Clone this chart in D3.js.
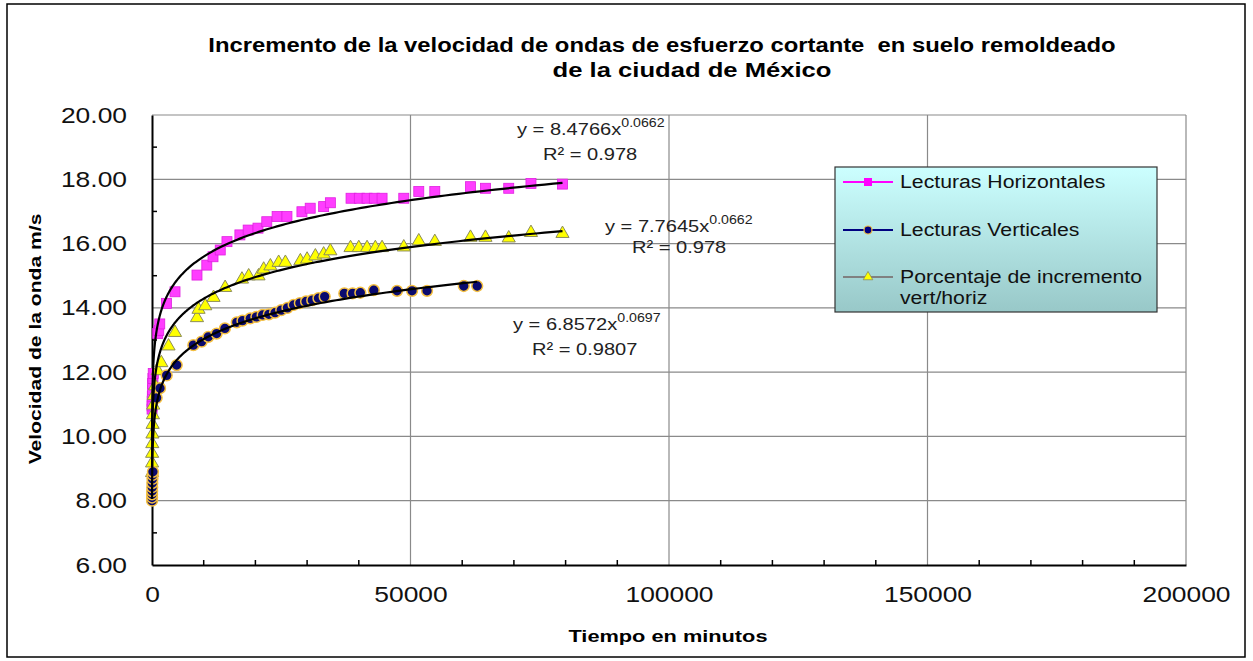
<!DOCTYPE html>
<html>
<head>
<meta charset="utf-8">
<script src="https://cdn.jsdelivr.net/npm/d3@7"></script>
<style>
  html, body { margin: 0; padding: 0; background: #fff; }
  svg { display: block; font-family: "Liberation Sans", Arial, sans-serif; }
</style>
</head>
<body>
<svg id="chart" width="1253" height="661"></svg>
<script>
// Tiempo (minutos) y velocidad (m/s) de cada serie
const horizTime = [10, 15, 30, 60, 90, 120, 180, 240, 1100, 1300, 1500, 2800, 4450, 8700, 10600, 11800, 13200, 14500, 17000, 18600, 20500, 22200, 24200, 26100, 29000, 30600, 33200, 34500, 38500, 40100, 41600, 43000, 44500, 48700, 51600, 54700, 61600, 64500, 69000, 73300, 79400];
const horizVel  = [10.85, 10.95, 11.1, 11.25, 11.45, 11.65, 11.8, 11.96, 13.2, 13.3, 13.5, 14.14, 14.5, 15.02, 15.33, 15.59, 15.8, 16.06, 16.27, 16.42, 16.48, 16.68, 16.84, 16.84, 16.99, 17.1, 17.15, 17.27, 17.41, 17.41, 17.41, 17.41, 17.41, 17.41, 17.62, 17.62, 17.77, 17.72, 17.72, 17.87, 17.85];

const vertTime = [10, 15, 20, 30, 45, 60, 90, 120, 180, 900, 1550, 2840, 4780, 8000, 9600, 10900, 12500, 14100, 16400, 17500, 19000, 20200, 21400, 22600, 23800, 25000, 26200, 27400, 28600, 29800, 31000, 32200, 33400, 37200, 38800, 40300, 42900, 47400, 50300, 53200, 60300, 62900];
const vertVel  = [8.0, 8.1, 8.2, 8.3, 8.42, 8.55, 8.68, 8.8, 8.9, 11.2, 11.5, 11.9, 12.22, 12.84, 12.95, 13.1, 13.2, 13.36, 13.55, 13.6, 13.67, 13.72, 13.78, 13.8, 13.85, 13.93, 14.0, 14.09, 14.15, 14.2, 14.24, 14.3, 14.35, 14.45, 14.45, 14.47, 14.55, 14.53, 14.53, 14.53, 14.68, 14.68];

const pctTime = [10, 15, 30, 60, 90, 120, 180, 240, 360, 600, 1100, 1800, 3200, 4450, 8700, 9000, 10300, 11900, 14150, 17400, 18700, 20600, 21600, 22900, 24500, 25800, 28700, 30000, 31600, 33200, 34500, 38400, 40000, 41600, 43200, 44500, 48700, 51600, 54700, 61600, 64500, 69000, 73300, 79400];
const pctVel  = [8.9, 9.2, 9.5, 9.8, 10.1, 10.4, 10.7, 11.0, 11.3, 11.6, 12.07, 12.32, 12.84, 13.26, 13.72, 13.98, 14.09, 14.35, 14.66, 14.92, 15.02, 15.02, 15.23, 15.33, 15.44, 15.44, 15.49, 15.54, 15.64, 15.7, 15.8, 15.9, 15.9, 15.9, 15.9, 15.9, 15.92, 16.11, 16.09, 16.22, 16.22, 16.2, 16.37, 16.34];

// Ajustes potenciales y = a·x^b
const fitCoefA = [8.4766, 6.8572, 7.7645];
const fitCoefB = [0.0662, 0.0697, 0.0662];
const fitR2    = ["0.978", "0.9807", "0.978"];

const seriesNames = ["Lecturas Horizontales", "Lecturas Verticales", "Porcentaje de incremento", "vert/horiz"];
const xTicks = [0, 50000, 100000, 150000, 200000];
const yTicks = [6, 8, 10, 12, 14, 16, 18, 20];
const xMinorTicks = d3.range(0, 200001, 10000);
const yMinorTicks = d3.range(6, 20.01, 1);

const titleLines = ["Incremento de la velocidad de ondas de esfuerzo cortante  en suelo remoldeado", "de la ciudad de México"];
const xTitle = "Tiempo en minutos";
const yTitle = "Velocidad de la onda m/s";

const svg = d3.select("#chart");

// Ensancha horizontalmente un texto conservando su altura
function widen(sel, f) {
  sel.each(function () {
    const len = this.getComputedTextLength();
    d3.select(this).attr("textLength", len * f).attr("lengthAdjust", "spacingAndGlyphs");
  });
  return sel;
}

// Marco exterior
svg.append("rect").attr("x", 7).attr("y", 4).attr("width", 1238).attr("height", 653)
  .attr("fill", "#fff").attr("stroke", "#000").attr("stroke-width", 1.5);

const x = d3.scaleLinear().domain([0, 200000]).range([152, 1186]);
const y = d3.scaleLinear().domain([6, 20]).range([565, 115]);

// Cuadrícula
const grid = svg.append("g");
grid.selectAll("line.h").data(yTicks.slice(1)).join("line")
  .attr("x1", x(0)).attr("x2", x(200000))
  .attr("y1", d => y(d)).attr("y2", d => y(d))
  .attr("stroke", "#8a8a8a").attr("stroke-width", 1.2);
grid.selectAll("line.v").data(xTicks.slice(1)).join("line")
  .attr("x1", d => x(d)).attr("x2", d => x(d))
  .attr("y1", y(6)).attr("y2", y(20))
  .attr("stroke", "#8a8a8a").attr("stroke-width", 1.2);

// Ejes
const xAxis = d3.axisBottom(x).tickValues(xTicks).tickSize(0).tickPadding(30).tickFormat(d3.format("d"));
const yAxis = d3.axisLeft(y).tickValues(yTicks).tickSize(0).tickPadding(25).tickFormat(d3.format(".2f"));

const gx = svg.append("g").attr("transform", `translate(0,${y(6)})`).call(xAxis);
const gy = svg.append("g").attr("transform", `translate(${x(0)},0)`).call(yAxis);
[gx, gy].forEach(g => {
  g.select(".domain").attr("stroke", "#000").attr("stroke-width", 2);
  g.selectAll("text").attr("font-size", 22).attr("fill", "#111")
    .attr("font-family", "'Liberation Sans', Arial, sans-serif");
  widen(g.selectAll(".tick text"), 1.2);
});
gx.selectAll(".tick text").attr("dy", "0.32em");

// Marcas menores hacia adentro
svg.append("g").selectAll("line").data(xMinorTicks.filter(d => d % 50000 !== 0)).join("line")
  .attr("x1", d => x(d)).attr("x2", d => x(d))
  .attr("y1", y(6)).attr("y2", y(6) - 5)
  .attr("stroke", "#000").attr("stroke-width", 1.5);
svg.append("g").selectAll("line").data(yMinorTicks.filter(d => d % 2 !== 0)).join("line")
  .attr("x1", x(0)).attr("x2", x(0) + 5)
  .attr("y1", d => y(d)).attr("y2", d => y(d))
  .attr("stroke", "#000").attr("stroke-width", 1.5);

// Series
const horiz = horizTime.map((t, i) => [t, horizVel[i]]);
const vert = vertTime.map((t, i) => [t, vertVel[i]]);
const pct = pctTime.map((t, i) => [t, pctVel[i]]);

const gH = svg.append("g");
gH.selectAll("rect").data(horiz).join("rect")
  .attr("x", d => x(d[0]) - 5).attr("y", d => y(d[1]) - 5)
  .attr("width", 10).attr("height", 10)
  .attr("fill", "#ff3dff").attr("stroke", "#e020e0").attr("stroke-width", 0.8);

const triangle = d3.symbol().type(d3.symbolTriangle).size(75);
const gP = svg.append("g");
gP.selectAll("path").data(pct).join("path")
  .attr("d", triangle)
  .attr("transform", d => `translate(${x(d[0])},${y(d[1]) + 1})`)
  .attr("fill", "#ffff00").attr("stroke", "#8c8c5a").attr("stroke-width", 1);

const gV = svg.append("g");
gV.selectAll("circle").data(vert).join("circle")
  .attr("cx", d => x(d[0])).attr("cy", d => y(d[1])).attr("r", 5.4)
  .attr("fill", "#0a0a6e").attr("stroke", "#f5c040").attr("stroke-width", 1.5);

// Líneas de tendencia potenciales
const seriesTimes = [horizTime, vertTime, pctTime];
const line = d3.line().x(d => x(d[0])).y(d => y(d[1])).curve(d3.curveLinear);
seriesTimes.forEach((ts, k) => {
  const t0 = d3.min(ts), t1 = d3.max(ts);
  const pts = d3.range(0, 401).map(i => {
    const t = Math.exp(Math.log(t0) + (Math.log(t1) - Math.log(t0)) * i / 400);
    return [t, fitCoefA[k] * Math.pow(t, fitCoefB[k])];
  });
  svg.append("path").datum(pts).attr("d", line)
    .attr("fill", "none").attr("stroke", "#000").attr("stroke-width", 2.2);
});

// Ecuaciones de ajuste
const eqPos = [[517, 135, 543, 160], [513, 330, 532, 355], [605, 232, 632, 253]];
fitCoefA.forEach((a, k) => {
  const [ex, ey, rx, ry] = eqPos[k];
  const t = svg.append("text").attr("x", ex).attr("y", ey).attr("font-size", 17).attr("fill", "#222");
  t.append("tspan").text(`y = ${a}x`);
  t.append("tspan").attr("font-size", 12).attr("dy", -8).text(fitCoefB[k]);
  widen(t, 1.18);
  widen(svg.append("text").attr("x", rx).attr("y", ry).attr("font-size", 17).attr("fill", "#222")
    .text(`R² = ${fitR2[k]}`), 1.18);
});

// Leyenda
const defs = svg.append("defs");
const grad = defs.append("linearGradient").attr("id", "legGrad").attr("x1", 0).attr("y1", 0).attr("x2", 0).attr("y2", 1);
grad.append("stop").attr("offset", "0%").attr("stop-color", "#ccffff");
grad.append("stop").attr("offset", "100%").attr("stop-color", "#98c8c8");

const leg = svg.append("g");
leg.append("rect").attr("x", 835).attr("y", 167).attr("width", 322).attr("height", 145)
  .attr("fill", "url(#legGrad)").attr("stroke", "#333").attr("stroke-width", 1.2);
const legRows = [182, 230, 277];
const legColors = ["#ff00ff", "#000080", "#808080"];
legRows.forEach((ly, k) => {
  leg.append("line").attr("x1", 843).attr("x2", 893).attr("y1", ly).attr("y2", ly)
    .attr("stroke", legColors[k]).attr("stroke-width", 2);
});
leg.append("rect").attr("x", 864).attr("y", legRows[0] - 4).attr("width", 8).attr("height", 8).attr("fill", "#ff00ff");
leg.append("circle").attr("cx", 868).attr("cy", legRows[1]).attr("r", 4).attr("fill", "#000080").attr("stroke", "#f5c040").attr("stroke-width", 1.2);
leg.append("path").attr("d", d3.symbol().type(d3.symbolTriangle).size(40))
  .attr("transform", `translate(868,${legRows[2]})`).attr("fill", "#ffff00").attr("stroke", "#8c8c5a").attr("stroke-width", 0.8);
[[seriesNames[0], legRows[0]], [seriesNames[1], legRows[1]], [seriesNames[2], legRows[2]], [seriesNames[3], legRows[2] + 21]]
  .forEach(([txt, ly]) => {
    widen(leg.append("text").attr("x", 900).attr("y", ly).attr("dy", "0.35em")
      .attr("font-size", 18).attr("fill", "#111").text(txt), 1.18);
  });

// Títulos
widen(svg.append("text").attr("x", 662).attr("y", 52).attr("text-anchor", "middle")
  .style("white-space", "pre")
  .attr("font-size", 20).attr("font-weight", "bold").text(titleLines[0]), 1.19);
widen(svg.append("text").attr("x", 692).attr("y", 77).attr("text-anchor", "middle")
  .attr("font-size", 20).attr("font-weight", "bold").text(titleLines[1]), 1.28);
widen(svg.append("text").attr("x", 668).attr("y", 642).attr("text-anchor", "middle")
  .attr("font-size", 17).attr("font-weight", "bold").text(xTitle), 1.28);
widen(svg.append("text").attr("transform", "translate(41,339) rotate(-90)").attr("text-anchor", "middle")
  .attr("font-size", 17).attr("font-weight", "bold").text(yTitle), 1.24);
</script>
</body>
</html>
